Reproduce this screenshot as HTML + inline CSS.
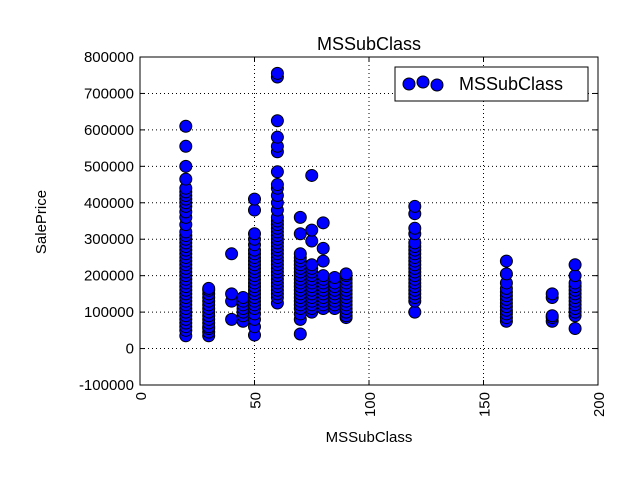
<!DOCTYPE html>
<html><head><meta charset="utf-8"><style>
body{margin:0;background:#fff}
svg text{font-family:"Liberation Sans","DejaVu Sans",sans-serif;fill:#000}
</style></head><body>
<svg id="chart" width="640" height="480" viewBox="0 0 640 480">
<rect width="640" height="480" fill="#fff"/>
<text x="369" y="50" font-size="18" text-anchor="middle">MSSubClass</text>
<g id="grid"></g>
<g id="pts"></g>
<rect x="140" y="57" width="458" height="328" fill="none" stroke="#000" stroke-width="1"/>
<g id="ticks"></g>
<text x="369" y="442" font-size="15" text-anchor="middle">MSSubClass</text>
<text x="46" y="222" font-size="15" text-anchor="middle" transform="rotate(-90 46 222)">SalePrice</text>
<g>
<rect x="395" y="67" width="193" height="34" fill="#fff" stroke="#000"/>
<circle cx="409" cy="84" r="6" fill="#0000ff" stroke="#000"/>
<circle cx="423" cy="82" r="6" fill="#0000ff" stroke="#000"/>
<circle cx="437" cy="85" r="6" fill="#0000ff" stroke="#000"/>
<text x="459" y="90" font-size="18">MSSubClass</text>
</g>
</svg>
<script>
const xTicks=[0,50,100,150,200];
const yTicks=[-100000,0,100000,200000,300000,400000,500000,600000,700000,800000];
const categories=[20,30,40,45,50,60,70,75,80,85,90,120,160,180,190];
const prices=[
[35,50,60,70,80,90,100,110,120,130,140,150,160,170,180,190,200,210,220,230,240,250,260,270,280,290,300,310,320,340,360,375,390,400,410,420,430,440,465,500,555,610],
[35,45,55,60,70,80,90,100,110,120,130,140,150,160,165],
[80,130,150,260],
[75,90,100,110,120,130,140],
[37,60,80,95,110,120,130,140,150,160,170,180,190,200,210,220,230,240,250,260,270,285,300,315,380,410],
[125,140,150,160,170,180,190,200,210,220,230,240,250,260,270,280,290,300,310,320,330,340,350,360,380,400,420,440,450,485,540,555,580,625,745,755],
[40,80,95,110,120,130,140,150,160,170,180,190,200,210,220,230,240,250,260,315,360],
[100,110,120,130,140,150,160,170,180,190,200,210,220,230,295,325,475],
[110,120,130,140,150,160,170,180,190,200,240,275,345],
[110,120,130,140,150,160,170,180,195],
[85,90,100,110,120,130,140,150,160,170,180,190,200,205],
[100,130,140,150,160,170,180,190,200,210,220,230,240,250,260,270,280,290,315,330,370,390],
[75,85,95,105,115,125,135,145,155,165,180,205,240],
[75,85,90,140,150],
[55,90,100,110,120,130,140,150,160,170,180,200,230]
];
const NS="http://www.w3.org/2000/svg";
const X=v=>140+(v-0)/200*458;
const Y=v=>385-(v+100000)/900000*328;
const grid=document.getElementById('grid'),ticks=document.getElementById('ticks'),pts=document.getElementById('pts');
function mk(tag,attrs,parent){const e=document.createElementNS(NS,tag);for(const k in attrs)e.setAttribute(k,attrs[k]);parent.appendChild(e);return e;}
xTicks.forEach(t=>{const x=X(t);
 const g=mk('line',{x1:x,x2:x,y1:57,y2:385,stroke:'#000','stroke-dasharray':'1,3','stroke-width':1},grid);
 
 
 mk('line',{x1:x,x2:x,y1:385,y2:380,stroke:'#000'},ticks);mk('line',{x1:x,x2:x,y1:57,y2:62,stroke:'#000'},ticks);
 const tx=mk('text',{x:x+6,y:392,'font-size':15,'text-anchor':'end',transform:`rotate(-90 ${x+6} 392)`},ticks);tx.textContent=t;
 
 
});
yTicks.forEach(t=>{const y=Y(t);
 const g=mk('line',{x1:140,x2:598,y1:y,y2:y,stroke:'#000','stroke-dasharray':'1,3','stroke-width':1},grid);
 
 
 mk('line',{x1:140,x2:145,y1:y,y2:y,stroke:'#000'},ticks);mk('line',{x1:598,x2:593,y1:y,y2:y,stroke:'#000'},ticks);
 const tx=mk('text',{x:134,y:y+5,'font-size':15,'text-anchor':'end'},ticks);tx.textContent=t;
 
 
});
categories.forEach((c,i)=>{prices[i].forEach(p=>{
 const e=mk('circle',{cx:X(c),cy:Y(p*1000),r:6,fill:'#0000ff',stroke:'#000','stroke-width':1},pts);
 
 
});});
</script>
</body></html>
